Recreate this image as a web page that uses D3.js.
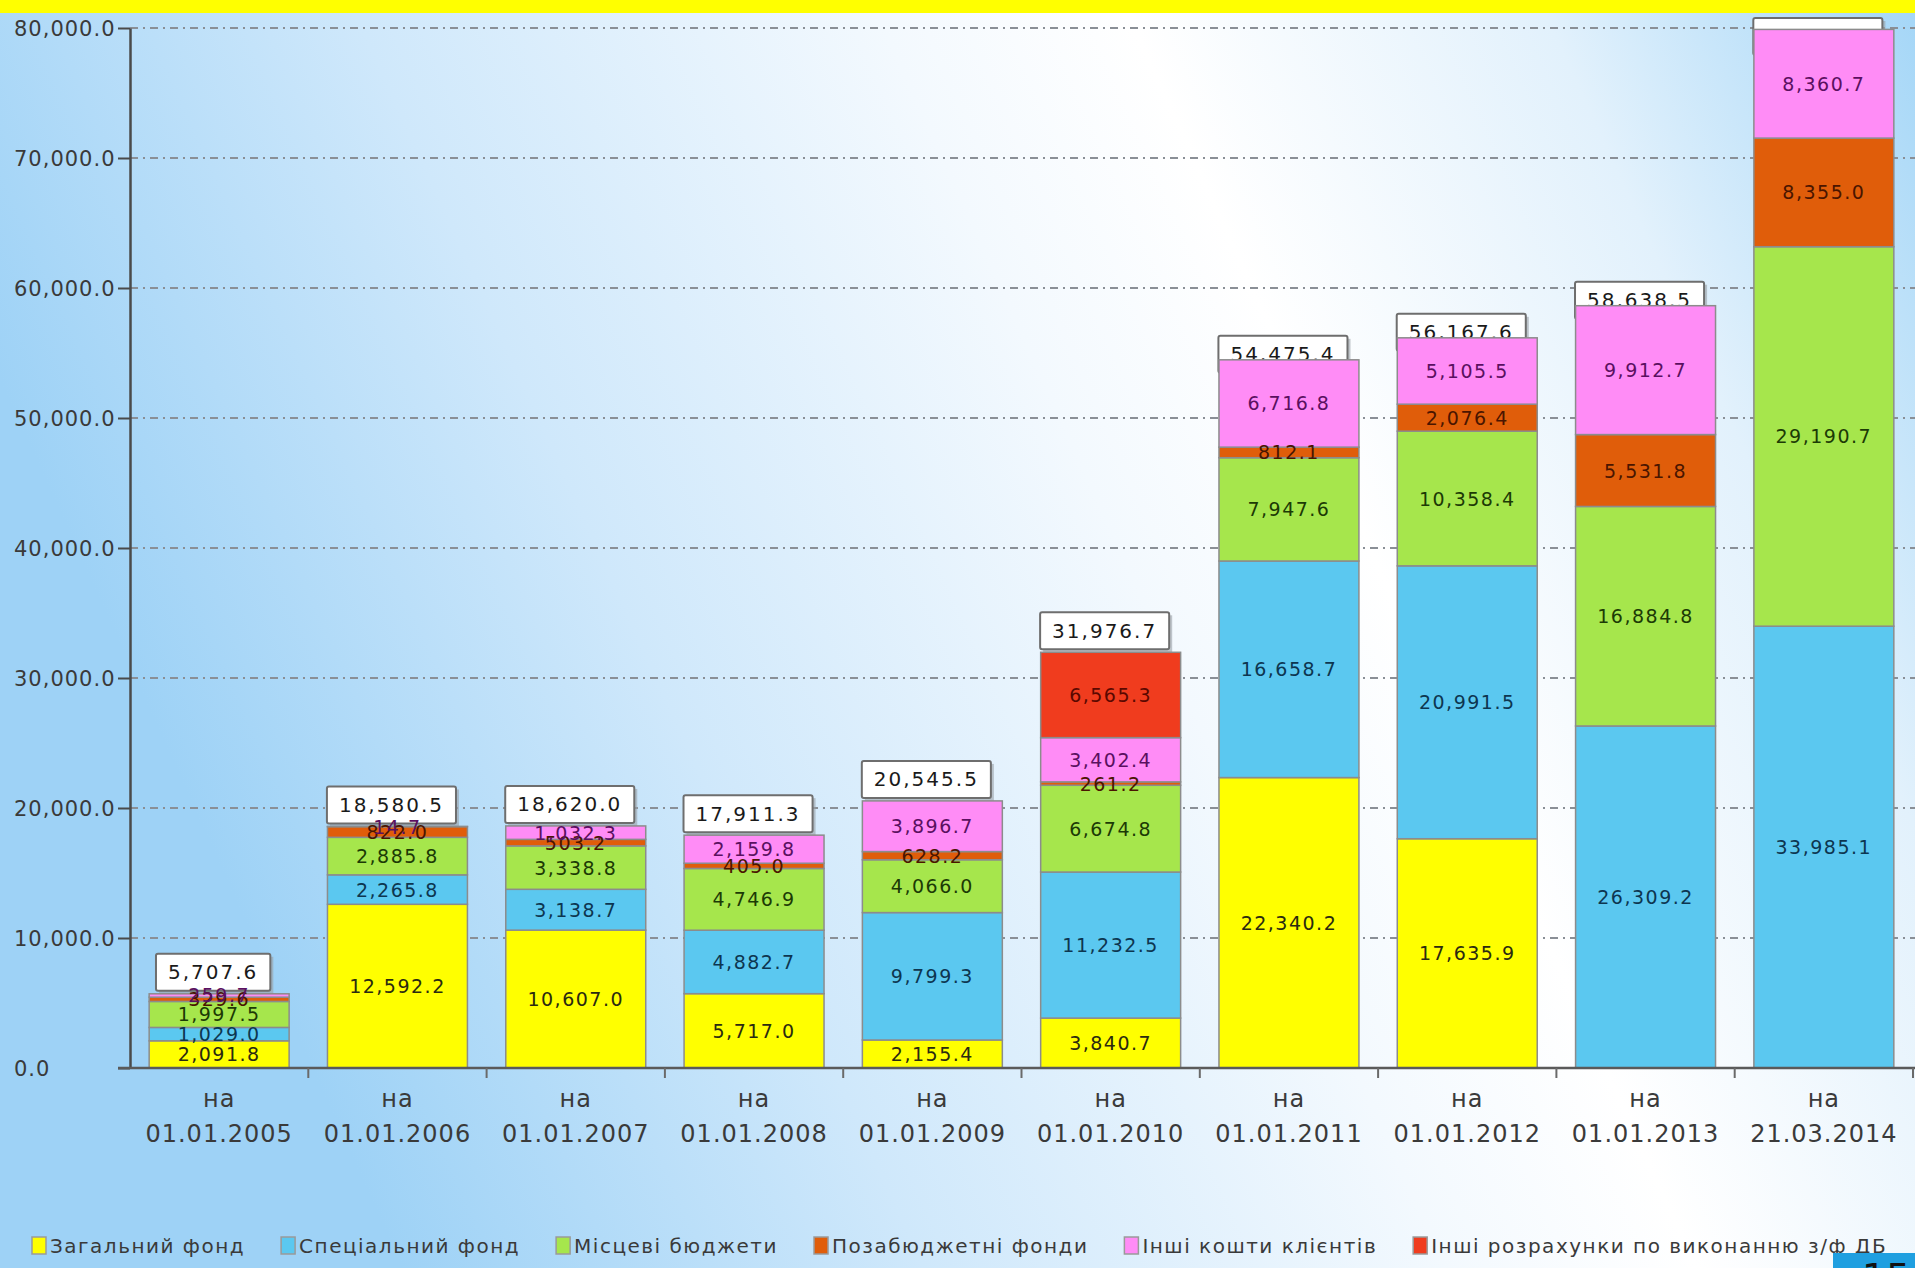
<!DOCTYPE html>
<html>
<head>
<meta charset="utf-8">
<script src="https://cdn.jsdelivr.net/npm/d3@7"></script>
<style>
  html, body { margin: 0; padding: 0; overflow: hidden; }
  svg { display: block; }
</style>
</head>
<body>
<svg id="chart" width="1915" height="1268"></svg>
<script>
// ---------- DATA ----------
const datePrefix = "на";
const dates = ["01.01.2005","01.01.2006","01.01.2007","01.01.2008","01.01.2009",
               "01.01.2010","01.01.2011","01.01.2012","01.01.2013","21.03.2014"];
const seriesNames = ["Загальний фонд","Спеціальний фонд","Місцеві бюджети",
                     "Позабюджетні фонди","Інші кошти клієнтів","Інші розрахунки по виконанню з/ф ДБ"];
const zagalnyiFond      = [2091.8, 12592.2, 10607.0, 5717.0, 2155.4, 3840.7, 22340.2, 17635.9, 0, 0];
const spetsialnyiFond   = [1029.0, 2265.8, 3138.7, 4882.7, 9799.3, 11232.5, 16658.7, 20991.5, 26309.2, 33985.1];
const mistseviBudzhety  = [1997.5, 2885.8, 3338.8, 4746.9, 4066.0, 6674.8, 7947.6, 10358.4, 16884.8, 29190.7];
const pozabudzhetniFondy= [329.6, 822.0, 503.2, 405.0, 628.2, 261.2, 812.1, 2076.4, 5531.8, 8355.0];
const inshiKoshty       = [259.7, 14.7, 1032.3, 2159.8, 3896.7, 3402.4, 6716.8, 5105.5, 9912.7, 8360.7];
const inshiRozrakhunky  = [0, 0, 0, 0, 0, 6565.3, 0, 0, 0, 0];
const totals = [5707.6, 18580.5, 18620.0, 17911.3, 20545.5, 31976.7, 54475.4, 56167.6, 58638.5, 79891.5];
const yTicks = [0, 10000, 20000, 30000, 40000, 50000, 60000, 70000, 80000];

// ---------- STYLE ----------
const fills  = ["#ffff00", "#5bc8f0", "#a6e64c", "#e05d0a", "#ff8cf6", "#f03c1e"];
const inkCol = ["#2a2a10", "#0d3650", "#1c3a05", "#4a1500", "#5a1060", "#5a0800"];
const seriesData = [zagalnyiFond, spetsialnyiFond, mistseviBudzhety, pozabudzhetniFondy, inshiKoshty, inshiRozrakhunky];

const W = 1915, H = 1268;
const plot = { left: 130, right: 1913, top: 28, bottom: 1068 };
const svg = d3.select("#chart");
const defs = svg.append("defs");

// background gradient
const g1 = defs.append("linearGradient").attr("id", "bg")
  .attr("x1", "0%").attr("y1", "30%").attr("x2", "100%").attr("y2", "0%");
[[0, "#9ed2f6"], [0.25, "#cfe8fb"], [0.5, "#f3f9fe"], [0.62, "#ffffff"], [0.82, "#e2f1fc"], [1, "#a4d6f7"]]
  .forEach(([o, c]) => g1.append("stop").attr("offset", o).attr("stop-color", c));
svg.append("rect").attr("width", W).attr("height", H).attr("fill", "url(#bg)");
svg.append("rect").attr("width", W).attr("height", 13).attr("fill", "#ffff00");

// scales
const idx = d3.range(dates.length);
const x = d3.scaleBand().domain(idx).range([plot.left, plot.right]).paddingInner(0.215).paddingOuter(0.1075);
const xb = d3.scaleBand().domain(idx).range([plot.left, plot.right]).padding(0);
const y = d3.scaleLinear().domain([0, 80000]).range([plot.bottom, plot.top]);

// gridlines
svg.append("g").selectAll("line").data(yTicks.filter(d => d > 0)).join("line")
  .attr("x1", plot.left).attr("x2", W)
  .attr("y1", d => y(d)).attr("y2", d => y(d))
  .attr("stroke", "#8a8f96").attr("stroke-width", 2)
  .attr("stroke-dasharray", "8,5,2,5");

// stacked data
const table = idx.map(i => {
  const o = { i };
  seriesNames.forEach((s, k) => o[k] = seriesData[k][i]);
  return o;
});
const stack = d3.stack().keys(d3.range(seriesNames.length))(table);

// total label boxes (behind bars)
const numFmt = d3.format(",.1f");
const totG = svg.append("g");
idx.forEach(i => {
  const top = y(totals[i]);
  const cx = x(i) + x.bandwidth() / 2 - 6;
  const t = totG.append("text")
    .attr("x", cx).attr("text-anchor", "middle")
    .attr("font-family", "DejaVu Sans").attr("font-size", 20).attr("letter-spacing", 2)
    .attr("fill", "#1a1a1a").text(numFmt(totals[i]));
  const tw = t.node().getComputedTextLength() + 2;
  const bw = tw + 22, bh = 37;
  const by = Math.max(18, top - (totals[i] > 50000 ? 24 : 40));
  totG.insert("rect", "text")
    .attr("x", cx - bw / 2 + 3).attr("y", by + 3).attr("width", bw).attr("height", bh)
    .attr("fill", "#9aa0a6").attr("opacity", 0.6);
  totG.insert("rect", "text")
    .attr("x", cx - bw / 2).attr("y", by).attr("width", bw).attr("height", bh).attr("rx", 2)
    .attr("fill", "#ffffff").attr("stroke", "#6e6e6e").attr("stroke-width", 2);
  t.attr("y", by + bh / 2 + 7);
});

// bars
const barsG = svg.append("g");
stack.forEach((layer, k) => {
  barsG.append("g").selectAll("rect").data(layer.filter(d => d[1] - d[0] > 0)).join("rect")
    .attr("x", d => x(d.data.i)).attr("width", x.bandwidth())
    .attr("y", d => y(d[1])).attr("height", d => y(d[0]) - y(d[1]))
    .attr("fill", fills[k]).attr("stroke", "#8c8c8c").attr("stroke-width", 1.5);
});
// segment labels
stack.forEach((layer, k) => {
  barsG.append("g").selectAll("text").data(layer.filter(d => d[1] - d[0] > 0)).join("text")
    .attr("x", d => x(d.data.i) + x.bandwidth() / 2)
    .attr("y", d => (y(d[0]) + y(d[1])) / 2 + 7)
    .attr("text-anchor", "middle")
    .attr("font-family", "DejaVu Sans").attr("font-size", 19).attr("letter-spacing", 1.5)
    .attr("fill", inkCol[k]).text(d => numFmt(d[1] - d[0]));
});

// y axis
const yAxis = svg.append("g").attr("transform", `translate(${plot.left},0)`)
  .call(d3.axisLeft(y).tickValues(yTicks).tickFormat(numFmt).tickSize(12).tickSizeOuter(0));
yAxis.select(".domain").attr("stroke", "#4a4a4a").attr("stroke-width", 2.5);
yAxis.selectAll(".tick line").attr("stroke", "#4a4a4a").attr("stroke-width", 2);
yAxis.selectAll(".tick text").attr("x", -(plot.left - 14)).attr("text-anchor", "start")
  .attr("font-family", "DejaVu Sans").attr("font-size", 21).attr("letter-spacing", 1)
  .attr("fill", "#3a3a3a").attr("dy", "0.36em");

// x axis
const xAxis = svg.append("g").attr("transform", `translate(0,${plot.bottom})`)
  .call(d3.axisBottom(x).tickSize(0).tickSizeOuter(0).tickFormat(i => dates[i]));
xAxis.select(".domain").attr("stroke", "#5a5a5a").attr("stroke-width", 2.5)
  .attr("d", `M${plot.left - 12},0H${W}`);
xAxis.selectAll(".tick text").each(function(i) {
  const t = d3.select(this).text(null).attr("y", 0).attr("dy", null)
    .attr("font-family", "DejaVu Sans").attr("font-size", 24).attr("letter-spacing", 1)
    .attr("fill", "#3a3a3a");
  t.append("tspan").attr("x", 0).attr("y", 39).text(datePrefix);
  t.append("tspan").attr("x", 0).attr("y", 74).text(dates[i]);
});
xAxis.append("g").selectAll("line").data(idx).join("line")
  .attr("x1", i => xb(i) + xb.step()).attr("x2", i => xb(i) + xb.step())
  .attr("y1", 0).attr("y2", 10).attr("stroke", "#6a6a6a").attr("stroke-width", 2);

// legend
const leg = svg.append("g").attr("transform", "translate(32,1246)");
let lx = 0;
seriesNames.forEach((s, k) => {
  const g = leg.append("g").attr("transform", `translate(${lx},0)`);
  g.append("rect").attr("x", 0).attr("y", -9).attr("width", 14).attr("height", 17)
    .attr("fill", fills[k]).attr("stroke", "#9a9a9a").attr("stroke-width", 1.5);
  const t = g.append("text").attr("x", 18).attr("y", 7)
    .attr("font-family", "DejaVu Sans").attr("font-size", 20).attr("letter-spacing", 1.5)
    .attr("fill", "#3a3a3a").text(s);
  lx += 18 + t.node().getComputedTextLength() + 36;
});

// slide number badge
svg.append("rect").attr("x", 1833).attr("y", 1253).attr("width", 82).attr("height", 15).attr("fill", "#1f9fe0");
svg.append("text").attr("x", 1862).attr("y", 1290).attr("font-family", "DejaVu Sans")
  .attr("font-size", 38).attr("fill", "#111").text("15");
</script>
</body>
</html>
